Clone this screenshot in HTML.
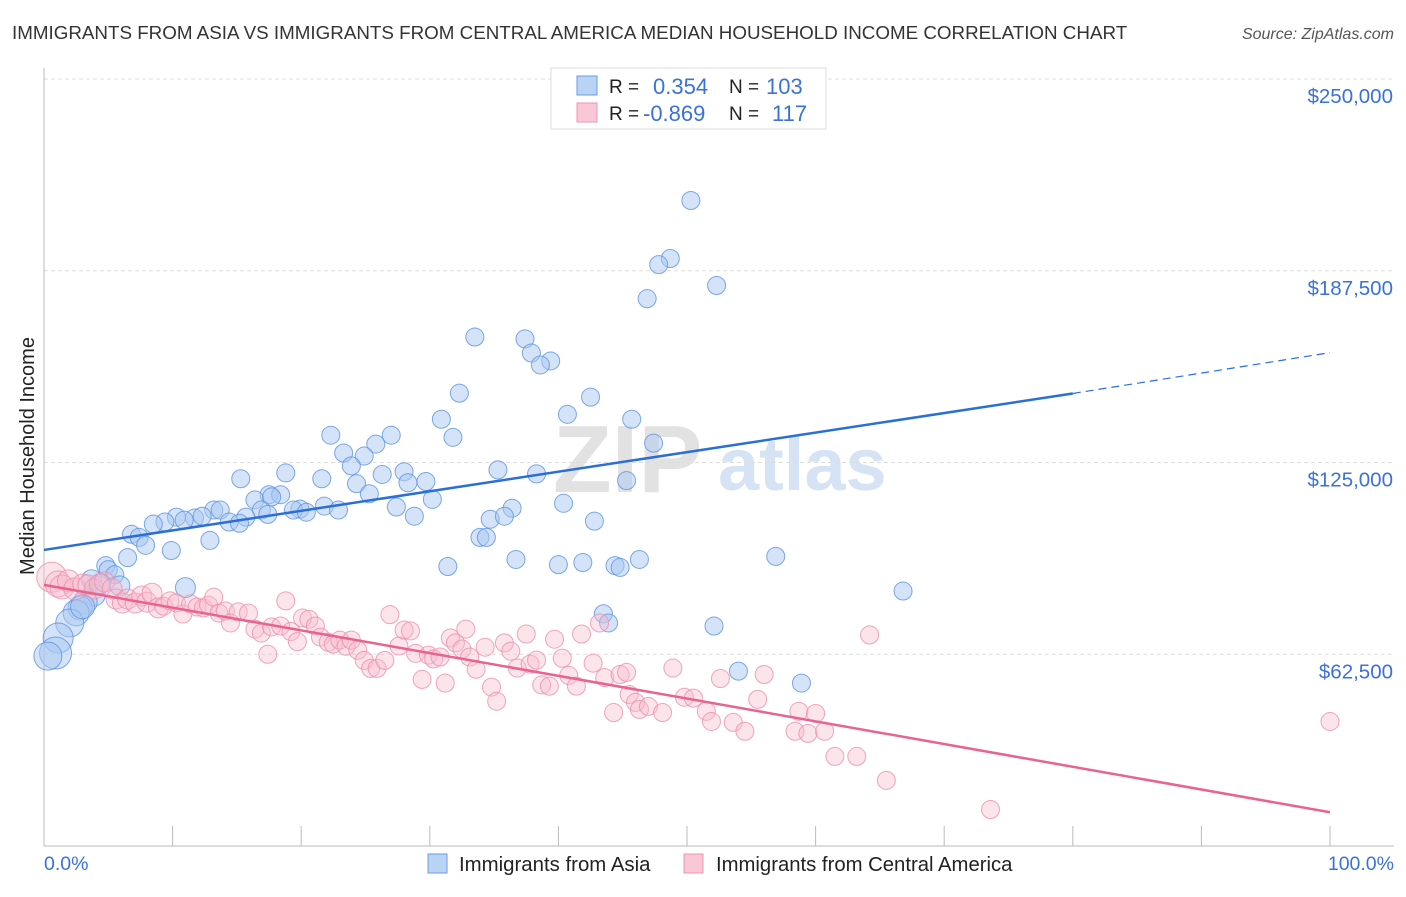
<!DOCTYPE html>
<html><head><meta charset="utf-8"><style>
body{margin:0;background:#fff;font-family:"Liberation Sans",sans-serif;}
svg text{font-family:"Liberation Sans",sans-serif;}
</style></head><body>
<svg id="chart" width="1406" height="892" xmlns="http://www.w3.org/2000/svg">
<text x="12" y="39" font-size="18.8" fill="#333">IMMIGRANTS FROM ASIA VS IMMIGRANTS FROM CENTRAL AMERICA MEDIAN HOUSEHOLD INCOME CORRELATION CHART</text>
<text x="1394" y="39" font-size="16" fill="#555" font-style="italic" text-anchor="end">Source: ZipAtlas.com</text>
<g>
<text x="553" y="492" font-size="96" font-family="Liberation Serif" fill="#e2e2e2" font-weight="bold">ZIP</text>
<text x="718" y="490" font-size="74" fill="#d5e3f5" font-weight="bold">atlas</text>
</g>
<g id="grid"></g>
<g id="axes"></g>
<g id="points"></g>
<g id="trends"></g>
<text transform="translate(34,456) rotate(-90)" font-size="20" fill="#222" text-anchor="middle">Median Household Income</text>
<text x="44" y="870" font-size="19.5" fill="#3a72d8">0.0%</text>
<text x="1394" y="870" font-size="19.5" fill="#3a72d8" text-anchor="end">100.0%</text>
<g>
<rect x="551" y="68" width="275" height="61" fill="#fff" stroke="#ddd"/>
<rect x="577" y="76" width="20" height="19" fill="#b9d3f5" stroke="#6a9be0"/>
<rect x="577" y="103" width="20" height="19" fill="#f9c7d5" stroke="#ec94b0"/>
<text x="609" y="93" font-size="19" fill="#222">R =</text>
<text x="653" y="94" font-size="22" fill="#3a72d8">0.354</text>
<text x="729" y="93" font-size="19" fill="#222">N =</text>
<text x="766" y="94" font-size="22" fill="#3a72d8">103</text>
<text x="609" y="120" font-size="19" fill="#222">R =</text>
<text x="643" y="121" font-size="22" fill="#3a72d8">-0.869</text>
<text x="729" y="120" font-size="19" fill="#222">N =</text>
<text x="772" y="121" font-size="22" fill="#3a72d8">117</text>
</g>
<g>
<rect x="428" y="854" width="19" height="19" fill="#b9d3f5" stroke="#6a9be0"/>
<text x="459" y="871" font-size="20.4" fill="#222">Immigrants from Asia</text>
<rect x="684" y="854" width="19" height="19" fill="#f9c7d5" stroke="#ec94b0"/>
<text x="716" y="871" font-size="20.3" fill="#222">Immigrants from Central America</text>
</g>
</svg>
<script>
const yTicks=[62500,125000,187500,250000];
const yTickLabels=["$62,500","$125,000","$187,500","$250,000"];
const xTicks=[0,10,20,30,40,50,60,70,80,90,100];
const asiaX=[50.3,48.7,47.8,52.3,46.9,33.5,37.4,37.9,39.4,38.6,32.3,42.5,30.9,40.7,45.7,22.3,27.0,31.8,25.8,47.4,23.3,24.9,23.9,35.3,15.3,18.8,21.6,28.0,26.3,38.3,45.3,24.3,29.7,28.3,25.3,17.5,16.4,18.4,17.7,30.2,40.4,16.9,13.2,13.7,21.8,27.4,36.4,19.9,19.4,20.4,17.4,22.9,28.8,34.7,35.8,10.3,9.4,11.7,12.3,10.9,8.5,14.4,15.7,15.2,42.8,6.8,7.4,7.9,12.9,33.9,34.4,6.5,9.9,36.7,56.9,31.4,40.0,41.9,44.4,44.8,46.3,4.8,5.0,5.5,3.7,4.4,66.8,11.0,5.9,3.9,3.2,2.8,2.5,2.0,43.5,43.9,52.1,1.1,0.9,54.0,58.9,0.3,3.0];
const asiaY=[210.4,191.5,189.5,182.7,178.4,165.9,165.3,160.7,158.1,156.8,147.6,146.3,139.1,140.7,139.1,133.9,133.9,133.2,131.0,131.3,128.1,127.1,123.9,122.6,119.7,121.6,119.7,122.0,121.1,121.3,119.1,118.1,118.8,118.4,114.8,114.5,112.8,114.5,113.8,113.0,111.7,109.5,109.5,109.5,110.8,110.5,110.1,109.8,109.5,108.8,108.1,109.5,107.5,106.5,107.5,107.2,105.6,106.9,107.5,106.2,104.9,105.6,107.2,105.2,105.9,101.6,100.6,98.0,99.6,100.6,100.6,94.0,96.3,93.4,94.4,91.1,91.7,92.4,91.4,90.8,93.4,91.4,90.1,88.4,86.8,85.5,83.1,84.2,84.8,81.8,79.5,77.6,76.0,72.7,75.7,72.7,71.7,67.8,62.9,57.0,53.1,61.9,78.0];
const asiaR=[9,9,9,9,9,9,9,9,9,9,9,9,9,9,9,9,9,9,9,9,9,9,9,9,9,9,9,9,9,9,9,9,9,9,9,9,9,9,9,9,9,9,9,9,9,9,9,9,9,9,9,9,9,9,9,9,9,9,9,9,9,9,9,9,9,9,9,9,9,9,9,9,9,9,9,9,9,9,9,9,9,9,9,9,10,10,9,10,10,11,12,12,13,14,9,9,9,15,16,9,9,14,12];
const camX=[0.6,1.1,1.4,1.9,2.4,3.0,3.4,3.9,4.3,4.7,5.3,5.6,6.1,6.5,7.1,7.6,8.0,8.4,8.9,9.3,9.8,10.3,10.8,11.4,11.9,12.4,12.8,13.2,13.6,14.1,14.5,15.1,15.9,16.4,16.9,17.4,17.7,18.4,18.8,19.2,19.7,20.1,20.6,21.1,21.5,22.1,22.5,23.0,23.5,23.9,24.4,24.9,25.4,25.9,26.5,26.9,27.6,28.0,28.5,28.9,29.4,29.9,30.3,30.8,31.2,31.6,32.0,32.5,32.8,33.1,33.6,34.3,34.8,35.2,35.8,36.3,36.8,37.5,37.8,38.3,38.7,39.3,39.7,40.3,40.8,41.4,41.8,42.7,43.2,43.6,44.3,44.8,45.3,45.5,46.0,46.3,47.0,48.1,48.9,49.8,50.5,51.5,51.9,52.6,53.6,54.5,55.5,56.0,58.4,58.7,59.4,60.0,60.7,61.5,63.2,64.2,65.5,73.6,100];
const camY=[87.6,85.4,84.4,86.4,83.8,85.4,85.1,83.8,85.4,86.1,83.8,80.5,79.2,80.5,79.2,81.5,79.5,82.4,77.6,78.2,79.9,79.2,75.6,78.9,77.9,77.6,78.5,81.1,75.9,76.6,72.7,76.3,75.9,70.7,69.4,62.5,71.4,71.7,79.9,69.9,66.6,74.3,73.9,71.7,68.1,66.4,65.8,67.1,65.1,67.1,63.8,60.5,57.9,57.9,60.5,75.4,65.2,70.4,70.1,62.8,54.3,62.2,61.0,61.6,53.1,67.8,66.2,64.2,70.7,61.6,57.6,64.8,51.8,47.2,66.2,63.5,58.0,69.1,59.3,60.6,52.5,52.1,67.4,61.2,55.6,52.1,69.1,59.6,72.7,54.9,43.5,55.9,56.6,49.4,46.8,44.5,45.5,43.5,58.0,48.5,48.2,43.9,40.6,54.6,40.3,37.4,47.8,55.9,37.4,43.9,36.7,43.2,37.4,29.2,29.2,68.8,21.4,11.9,40.6,12.6,42.9];
const camR=[15,13,12,11,11,10,10,10,10,10,10,10,10,10,10,10,10,10,10,9,9,9,9,9,9,9,9,9,9,9,9,9,9,9,9,9,9,9,9,9,9,9,9,9,9,9,9,9,9,9,9,9,9,9,9,9,9,9,9,9,9,9,9,9,9,9,9,9,9,9,9,9,9,9,9,9,9,9,9,9,9,9,9,9,9,9,9,9,9,9,9,9,9,9,9,9,9,9,9,9,9,9,9,9,9,9,9,9,9,9,9,9,9,9,9,9,9,9,9,9,9];
const asiaTrend=[[0,96.5],[80,147.5],[100,160.8]];
const camTrend=[[0,85.1],[100,11.0]];

const NS="http://www.w3.org/2000/svg";
const X0=44,X1=1330,Y0=846,PX_PER=191.75/62500;
function xs(p){return X0+(X1-X0)*p/100;}
function ys(v){return Y0-v*PX_PER;}
function mk(tag,attrs,parent){const e=document.createElementNS(NS,tag);for(const k in attrs)e.setAttribute(k,attrs[k]);parent.appendChild(e);return e;}
const grid=document.getElementById('grid'),axes=document.getElementById('axes'),pts=document.getElementById('points'),tr=document.getElementById('trends');
yTicks.forEach((t,i)=>{
 const l=mk('line',{x1:X0,x2:1394,y1:ys(t),y2:ys(t),stroke:'#ddd','stroke-dasharray':'4,3'},grid);
 
 
 const tx=mk('text',{x:1393,y:ys(t)+24,'font-size':20.5,fill:'#3a72d8','text-anchor':'end'},grid);
 tx.textContent=yTickLabels[i];
 
 
});
const ya=mk('line',{x1:X0,x2:X0,y1:68,y2:Y0,stroke:'#bbb'},axes);


const xa=mk('line',{x1:X0,x2:1394,y1:Y0,y2:Y0,stroke:'#bbb'},axes);


xTicks.forEach(t=>{
 const l=mk('line',{x1:xs(t),x2:xs(t),y1:Y0,y2:Y0-20,stroke:'#bbb'},axes);
 
 
});
function drawSeries(X,Y,R,fill,op,stroke,name){
 for(let i=0;i<X.length;i++){
  const c=mk('circle',{cx:xs(X[i]),cy:ys(Y[i]*1000),r:R[i],fill:fill,'fill-opacity':op,stroke:stroke,'stroke-width':1,'stroke-opacity':0.8},pts);
  
  
 }
}
drawSeries(asiaX,asiaY,asiaR,'#a9c8f2',0.5,'#5b93e0','asia-point');
drawSeries(camX,camY,camR,'#f8bccd',0.4,'#ec8fad','central-america-point');
const a1=mk('line',{x1:xs(asiaTrend[0][0]),y1:ys(asiaTrend[0][1]*1000),x2:xs(asiaTrend[1][0]),y2:ys(asiaTrend[1][1]*1000),stroke:'#2a6fd6','stroke-width':2.5},tr);


const a2=mk('line',{x1:xs(asiaTrend[1][0]),y1:ys(asiaTrend[1][1]*1000),x2:xs(asiaTrend[2][0]),y2:ys(asiaTrend[2][1]*1000),stroke:'#2a6fd6','stroke-width':1.2,'stroke-dasharray':'8,5'},tr);


const c1=mk('line',{x1:xs(camTrend[0][0]),y1:ys(camTrend[0][1]*1000),x2:xs(camTrend[1][0]),y2:ys(camTrend[1][1]*1000),stroke:'#e8638f','stroke-width':2.5},tr);


</script>
</body></html>
